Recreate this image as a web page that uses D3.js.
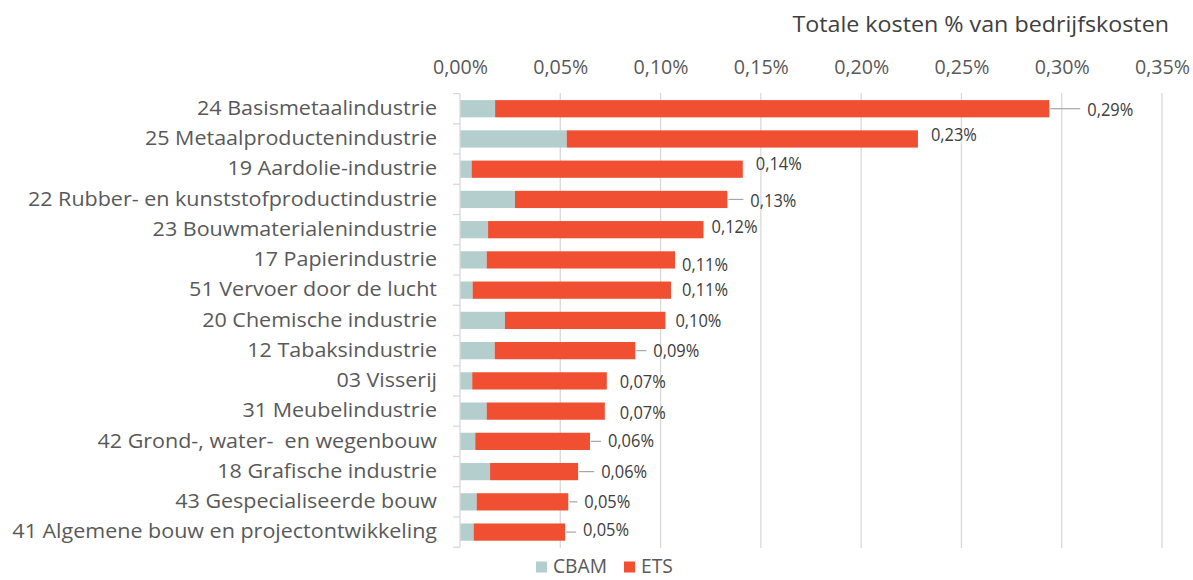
<!DOCTYPE html>
<html>
<head>
<meta charset="utf-8">
<script src="https://cdn.jsdelivr.net/npm/d3@7"></script>
<style>
  html, body { margin: 0; padding: 0; background: #fff; }
  svg { display: block; font-family: "Open Sans", "Noto Sans", sans-serif; }
</style>
</head>
<body>
<svg id="chart" width="1193" height="580"></svg>
<script>
// ---- data ----
const categories = [
  "24 Basismetaalindustrie",
  "25 Metaalproductenindustrie",
  "19 Aardolie-industrie",
  "22 Rubber- en kunststofproductindustrie",
  "23 Bouwmaterialenindustrie",
  "17 Papierindustrie",
  "51 Vervoer door de lucht",
  "20 Chemische industrie",
  "12 Tabaksindustrie",
  "03 Visserij",
  "31 Meubelindustrie",
  "42 Grond-, water-  en wegenbouw",
  "18 Grafische industrie",
  "43 Gespecialiseerde bouw",
  "41 Algemene bouw en projectontwikkeling"
];
const cbamValues = [0.0175, 0.0532, 0.0058, 0.0274, 0.0140, 0.0133, 0.0063, 0.0224, 0.0173, 0.0061, 0.0133, 0.0076, 0.0150, 0.0083, 0.0068];
const etsValues  = [0.2763, 0.1751, 0.1352, 0.1059, 0.1074, 0.0939, 0.0989, 0.0800, 0.0701, 0.0671, 0.0589, 0.0572, 0.0439, 0.0457, 0.0456];
const seriesNames = ["CBAM", "ETS"];
const tickValues = [0, 0.05, 0.10, 0.15, 0.20, 0.25, 0.30, 0.35];
const axisTitle = "Totale kosten % van bedrijfskosten";

// ---- layout (label nudges as in the original, not data) ----
const labelDx = [38, 13, 13, 23, 8, 7, 11, 10, 18, 13, 15, 18, 23, 16, 18];
const labelDy = [1, -4, -5, 1, -3, 5, 0, 0, 0, 1, 2, 0, 0, 0, -2];
const leader  = [1, 0, 0, 1, 0, 0, 0, 0, 1, 0, 0, 1, 1, 1, 1];
const colors = { CBAM: "#b3cecd", ETS: "#f04f31" };

const rows = categories.map((c, i) => ({ cat: c, CBAM: cbamValues[i], ETS: etsValues[i], i }));
const stack = d3.stack().keys(seriesNames)(rows);

const nl = d3.formatLocale({ decimal: ",", thousands: ".", grouping: [3], currency: ["€", ""] });
const fmt = v => nl.format(".2f")(v) + "%";

const svg = d3.select("#chart");
const x = d3.scaleLinear().domain([0, 0.35]).range([460, 1162]);
const y = d3.scaleBand().domain(categories).range([93.6, 547.2]).paddingInner(0.43).paddingOuter(0.215);

// gridlines
svg.append("g").selectAll("line").data(tickValues.slice(1)).join("line")
  .attr("x1", d => x(d)).attr("x2", d => x(d))
  .attr("y1", 93).attr("y2", 548)
  .attr("stroke", "#d9d9d9").attr("stroke-width", 1.3);

// top axis tick labels
const tickG = svg.append("g").attr("transform", "translate(0,73.5)")
  .call(d3.axisTop(x).tickValues(tickValues).tickFormat(fmt).tickSize(0).tickPadding(0))
  .attr("font-family", null).attr("font-size", null);
tickG.select(".domain").remove();
tickG.selectAll("text").attr("fill", "#595959");

// axis title
const title = svg.append("text").attr("x", 1169).attr("y", 32.5)
  .attr("text-anchor", "end").attr("fill", "#404040").text(axisTitle);

// bars
svg.append("g").selectAll("g").data(stack).join("g")
  .attr("fill", d => colors[d.key])
  .selectAll("rect").data(d => d).join("rect")
  .attr("x", d => x(d[0]))
  .attr("width", d => x(d[1]) - x(d[0]))
  .attr("y", d => y(d.data.cat))
  .attr("height", y.bandwidth());

// y axis (category side)
const yAxis = svg.append("g").attr("transform", "translate(460,0)")
  .call(d3.axisLeft(y).tickSize(0).tickPadding(23))
  .attr("font-family", null).attr("font-size", null);
yAxis.select(".domain").attr("stroke", "#d9d9d9").attr("stroke-width", 1.3).attr("d", `M0,${93.6}V${547.2}`);
yAxis.selectAll("text").attr("fill", "#595959").style("white-space", "pre");
// boundary ticks
const bounds = d3.range(categories.length + 1).map(k => 93.6 + k * y.step());
svg.append("g").selectAll("line").data(bounds).join("line")
  .attr("x1", 453).attr("x2", 460).attr("y1", d => d).attr("y2", d => d)
  .attr("stroke", "#d9d9d9").attr("stroke-width", 1.3);

// data labels
const last = stack[stack.length - 1];
const lab = svg.append("g");
lab.selectAll("line").data(last.filter((d, i) => leader[i])).join("line")
  .attr("x1", d => x(d[1]) + 1)
  .attr("x2", d => x(d[1]) + labelDx[d.data.i] - 7)
  .attr("y1", d => y(d.data.cat) + y.bandwidth() / 2)
  .attr("y2", d => y(d.data.cat) + y.bandwidth() / 2)
  .attr("stroke", "#a6a6a6").attr("stroke-width", 1.2);
const dataLabels = lab.selectAll("text").data(last).join("text")
  .attr("x", d => x(d[1]) + labelDx[d.data.i])
  .attr("y", d => y(d.data.cat) + y.bandwidth() / 2 + labelDy[d.data.i])
  .attr("dy", "0.35em").attr("fill", "#404040")
  .text(d => fmt(d[1]));

// legend
const legend = svg.append("g");
const legendItems = [{ k: "CBAM", sx: 536, tx: 553 }, { k: "ETS", sx: 624, tx: 641 }];
legend.selectAll("rect").data(legendItems).join("rect")
  .attr("x", d => d.sx).attr("y", 561.5).attr("width", 11).attr("height", 11)
  .attr("fill", d => colors[d.k]);
const legendText = legend.selectAll("text").data(legendItems).join("text")
  .attr("x", d => d.tx).attr("y", 573.5).attr("fill", "#595959").text(d => d.k);

// size fonts to the original glyph height, then condense horizontally to the original text width
function fit(sel, refNode, targetW, fontSize) {
  sel.attr("font-size", fontSize);
  const w = refNode.getComputedTextLength();
  const sx = targetW / w;
  sel.each(function () {
    const t = d3.select(this);
    const ax = +t.attr("x") || 0;
    t.attr("transform", `matrix(${sx},0,0,1,${ax * (1 - sx)},0)`);
  });
}
const catTexts = yAxis.selectAll("text");
fit(catTexts, catTexts.filter(d => d === categories[14]).node(), 425, 19.5);
const tickTexts = tickG.selectAll("text");
fit(tickTexts, tickTexts.nodes()[0], 55, 20.5);
fit(title, title.node(), 377, 22);
fit(dataLabels, dataLabels.nodes()[0], 46, 17.5);
fit(legendText, legendText.nodes()[0], 54, 19.5);
</script>
</body>
</html>
